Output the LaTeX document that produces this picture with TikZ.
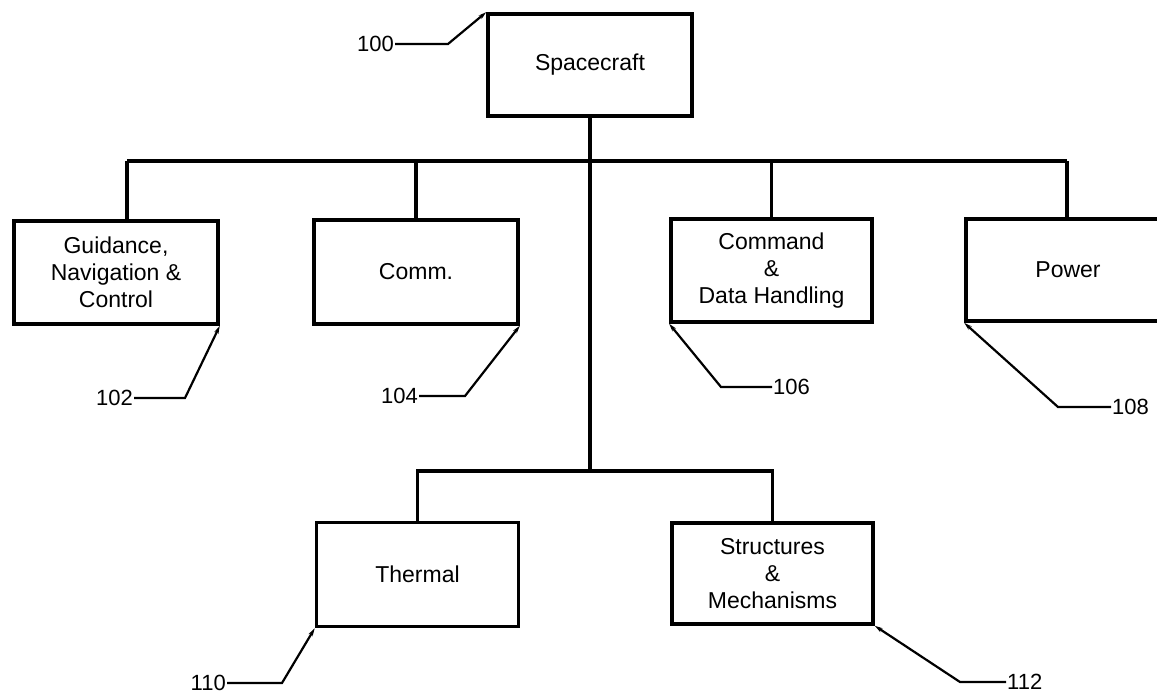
\documentclass[tikz,border=0pt]{standalone}
\usepackage{fontspec}
\setmainfont{Liberation Sans}
\usetikzlibrary{arrows.meta}
\begin{document}
\begin{tikzpicture}[x=1pt,y=-1pt,
  box/.style={draw, line width=3.6pt, rectangle, align=center, font=\fontsize{23}{27}\selectfont, inner sep=0pt},
  conn/.style={line width=3.2pt},
  leader/.style={line width=2.2pt, -{Stealth[length=8pt,width=4.5pt]}},
  lbl/.style={font=\fontsize{22}{26}\selectfont, inner sep=1pt}]
\useasboundingbox (0,0) rectangle (1157,696);
% boxes
\node[box, minimum width=204pt, minimum height=102pt] (sc)  at (590,65)     {Spacecraft};
\node[box, minimum width=204pt, minimum height=103pt] (gnc) at (116,272.5)  {Guidance,\\Navigation \&\\Control};
\node[box, minimum width=204pt, minimum height=104pt] (com) at (416,272)    {Comm.};
\node[box, minimum width=201pt, minimum height=103pt] (cdh) at (771.5,270.5){Command\\\&\\Data Handling};
\node[box, minimum width=204pt, minimum height=102pt] (pwr) at (1068,270)   {Power};
\node[box, minimum width=202pt, minimum height=104pt] (th)  at (417.5,574.5){Thermal};
\node[box, minimum width=201pt, minimum height=101pt] (st)  at (772.5,573.5){Structures\\\&\\Mechanisms};
% upper bus
\coordinate (busL) at (127,161);
\coordinate (busR) at (1067,161);
\coordinate (lbus) at (591,471);
\draw[conn] (busL) -- (busR);
\draw[conn] (busL) -- (busL |- gnc.north);
\draw[conn] (com.north |- busL) -- (com.north);
\draw[conn] (cdh.north |- busL) -- (cdh.north);
\draw[conn] (busR) -- (busR |- pwr.north);
% central trunk and lower bus
\draw[conn] (sc.south) -- (sc.south |- lbus);
\draw[conn] (th.north) |- (st.north |- lbus) -- (st.north);
% reference labels
\node[lbl, anchor=east] (l100) at (395,44)  {100};
\node[lbl, anchor=east] (l102) at (134,398) {102};
\node[lbl, anchor=east] (l104) at (419,396) {104};
\node[lbl, anchor=west] (l106) at (772,387) {106};
\node[lbl, anchor=west] (l108) at (1111,407){108};
\node[lbl, anchor=east] (l110) at (227,683) {110};
\node[lbl, anchor=west] (l112) at (1006,682){112};
\draw[leader] (l100.east) -- ++(53,0) -- (sc.north west);
\draw[leader] (l102.east) -- ++(51,0) -- (gnc.south east);
\draw[leader] (l104.east) -- ++(46,0) -- (com.south east);
\draw[leader] (l106.west) -- ++(-51,0) -- (cdh.south west);
\draw[leader] (l108.west) -- ++(-53,0) -- (pwr.south west);
\draw[leader] (l110.east) -- ++(55,0) -- (th.south west);
\draw[leader] (l112.west) -- ++(-46,0) -- (st.south east);
\end{tikzpicture}
\end{document}
